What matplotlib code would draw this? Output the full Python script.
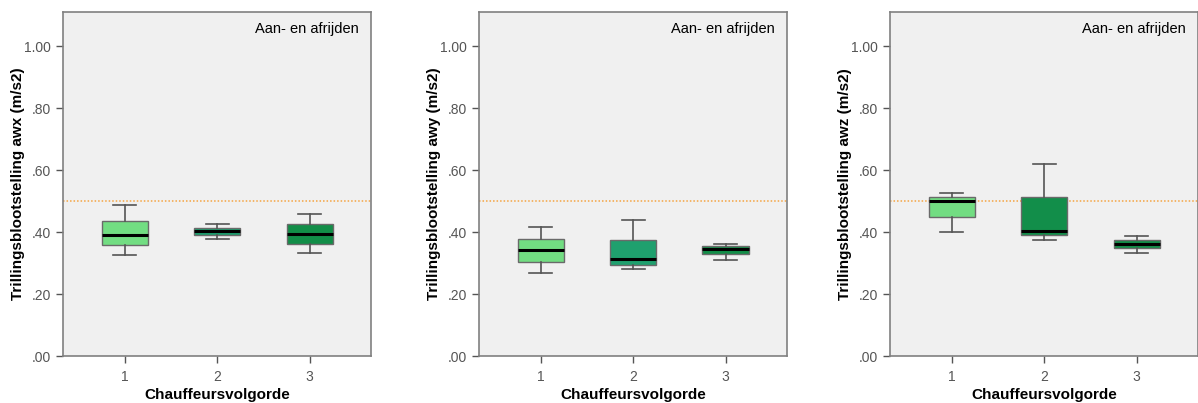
import matplotlib
matplotlib.use('Agg')
import matplotlib.pyplot as plt

plt.rcParams['font.family'] = ['Liberation Sans', 'DejaVu Sans']

# categories
groups = ['1', '2', '3']

# five-number summaries per panel: [whislo, q1, med, q3, whishi]
awx = [[0.327, 0.359, 0.389, 0.437, 0.486],
       [0.377, 0.390, 0.403, 0.414, 0.425],
       [0.334, 0.362, 0.395, 0.427, 0.459]]
awy = [[0.269, 0.304, 0.342, 0.377, 0.416],
       [0.280, 0.294, 0.312, 0.374, 0.438],
       [0.309, 0.328, 0.346, 0.354, 0.362]]
awz = [[0.400, 0.449, 0.500, 0.512, 0.527],
       [0.376, 0.390, 0.404, 0.512, 0.620],
       [0.334, 0.347, 0.361, 0.375, 0.388]]

ylabels = ['Trillingsblootstelling awx (m/s2)',
           'Trillingsblootstelling awy (m/s2)',
           'Trillingsblootstelling awz (m/s2)']
box_colors = [['#72DD82', '#1C9C6C', '#128E48'],
              ['#72DD82', '#1FA06E', '#128E48'],
              ['#72DD82', '#128E4A', '#128E48']]
limit = 0.5
yticks = [0.0, 0.2, 0.4, 0.6, 0.8, 1.0]
ytick_labels = ['.00', '.20', '.40', '.60', '.80', '1.00']

fig = plt.figure(figsize=(11.98, 4.03), dpi=100)
lefts = [0.0526, 0.3998, 0.7429]
panels = [awx, awy, awz]

for p in range(3):
    ax = fig.add_axes([lefts[p], 0.1166, 0.2575, 0.8534])
    ax.set_facecolor('#F0F0F0')
    data = panels[p]
    stats = []
    for i in range(len(groups)):
        d = data[i]
        stats.append({'whislo': d[0], 'q1': d[1], 'med': d[2], 'q3': d[3],
                      'whishi': d[4], 'fliers': [], 'label': groups[i]})
    ax.axhline(limit, color='#F5A442', linestyle=(0, (1, 1.3)), lw=1.1, zorder=1)
    bp = ax.bxp(stats, positions=[1, 2, 3], widths=0.5, capwidths=0.25,
                patch_artist=True, showfliers=False,
                boxprops=dict(edgecolor='#6A6A6A', linewidth=1.0),
                whiskerprops=dict(color='#555555', linewidth=1.2),
                capprops=dict(color='#555555', linewidth=1.2),
                medianprops=dict(color='black', linewidth=2.2))
    for i, b in enumerate(bp['boxes']):
        b.set_facecolor(box_colors[p][i])
        b.set_zorder(2)
    for m in bp['medians']:
        m.set_zorder(3)
    ax.set_xlim(0.33, 3.67)
    ax.set_ylim(0, 1.11)
    ax.set_yticks(yticks)
    ax.set_yticklabels(ytick_labels)
    ax.tick_params(axis='both', colors='#555555', labelcolor='#555555',
                   labelsize=10, length=5, width=1)
    ax.tick_params(axis='x', pad=5)
    for s in ax.spines.values():
        s.set_color('#808080')
        s.set_linewidth(1.2)
    ax.set_ylabel(ylabels[p], fontsize=11, fontweight='bold')
    ax.yaxis.set_label_coords(-0.123, 0.5)
    ax.set_xlabel('Chauffeursvolgorde', fontsize=11, fontweight='bold')
    ax.xaxis.set_label_coords(0.5, -0.094)
    ax.text(0.96, 0.95, 'Aan- en afrijden', transform=ax.transAxes,
            ha='right', va='center', fontsize=10.5)

fig.savefig('out.png', dpi=100)
